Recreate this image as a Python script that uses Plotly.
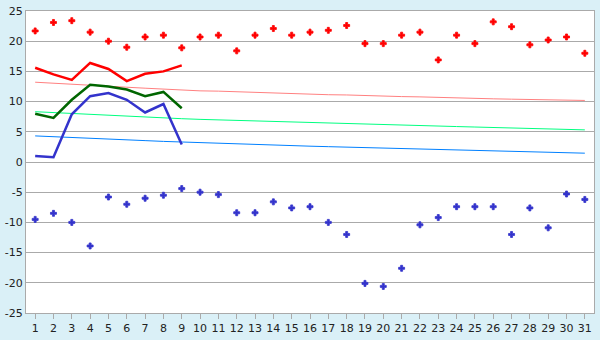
import plotly.graph_objects as go

days = list(range(1, 32))
day_labels = [str(d) for d in days]

max_temp = [21.7, 23.1, 23.4, 21.5, 20.0, 19.0, 20.7, 21.0, 18.9, 20.7, 21.0, 18.4, 21.0, 22.1, 21.0,
            21.5, 21.8, 22.6, 19.6, 19.6, 21.0, 21.5, 16.9, 21.0, 19.6, 23.2, 22.4, 19.4, 20.2, 20.7, 18.0]
min_temp = [-9.5, -8.5, -10.0, -13.9, -5.8, -7.0, -6.0, -5.5, -4.4, -5.0, -5.4, -8.4, -8.4, -6.6, -7.6,
            -7.4, -10.0, -12.0, -20.1, -20.6, -17.6, -10.4, -9.2, -7.4, -7.4, -7.4, -12.0, -7.6, -10.9, -5.3, -6.2]

line_days = list(range(1, 10))
high_line = [15.6, 14.5, 13.6, 16.4, 15.4, 13.4, 14.6, 15.0, 16.0]
mean_line = [8.0, 7.3, 10.3, 12.8, 12.5, 12.0, 10.9, 11.6, 8.9]
low_line = [1.0, 0.8, 7.9, 10.9, 11.4, 10.3, 8.2, 9.6, 2.9]

norm_high = [13.21, 13.02, 12.86, 12.70, 12.54, 12.38, 12.22, 12.06, 11.94, 11.78, 11.73, 11.62, 11.51,
             11.46, 11.35, 11.25, 11.14, 11.10, 10.98, 10.94, 10.83, 10.78, 10.67, 10.62, 10.51, 10.46,
             10.40, 10.35, 10.30, 10.24, 10.19]
norm_mean = [8.33, 8.17, 8.02, 7.86, 7.70, 7.54, 7.43, 7.30, 7.17, 7.06, 6.97, 6.86, 6.75, 6.65, 6.56,
             6.46, 6.38, 6.30, 6.22, 6.16, 6.08, 6.02, 5.95, 5.87, 5.79, 5.71, 5.63, 5.56, 5.48, 5.40, 5.32]
norm_low = [4.32, 4.17, 4.05, 3.92, 3.79, 3.67, 3.54, 3.41, 3.30, 3.21, 3.10, 2.98, 2.89, 2.81, 2.71,
            2.62, 2.54, 2.46, 2.37, 2.29, 2.22, 2.14, 2.06, 1.98, 1.92, 1.86, 1.78, 1.70, 1.60, 1.52, 1.46]

y_ticks = [-25, -20, -15, -10, -5, 0, 5, 10, 15, 20, 25]
y_labels = ["-25", "-20", "-15", "-10", "-5", "0", "5", "10", "15", "20", "25"]

fig = go.Figure()

fig.add_trace(go.Scatter(x=days, y=norm_high, mode="lines", line=dict(color="#FF8080", width=1)))
fig.add_trace(go.Scatter(x=days, y=norm_mean, mode="lines", line=dict(color="#00FF80", width=1)))
fig.add_trace(go.Scatter(x=days, y=norm_low, mode="lines", line=dict(color="#0080FF", width=1)))

fig.add_trace(go.Scatter(x=line_days, y=high_line, mode="lines", line=dict(color="#FF0000", width=2.5)))
fig.add_trace(go.Scatter(x=line_days, y=mean_line, mode="lines", line=dict(color="#006600", width=2.5)))
fig.add_trace(go.Scatter(x=line_days, y=low_line, mode="lines", line=dict(color="#3333CC", width=2.5)))

fig.add_trace(go.Scatter(x=days, y=max_temp, mode="markers",
                         marker=dict(symbol="cross", size=5, color="#FF0000",
                                     line=dict(width=0.8, color="#FF0000"))))
fig.add_trace(go.Scatter(x=days, y=min_temp, mode="markers",
                         marker=dict(symbol="cross", size=5, color="#3333CC",
                                     line=dict(width=0.8, color="#3333CC"))))

fig.update_layout(
    width=600, height=340,
    margin=dict(l=26, r=5, t=5, b=20),
    paper_bgcolor="#DAF0F7",
    plot_bgcolor="#FFFFFF",
    showlegend=False,
    font=dict(family="DejaVu Sans", size=11, color="#222222"),
    xaxis=dict(
        range=[0.5, 31.5], tickmode="array", tickvals=days, ticktext=day_labels,
        showgrid=False, zeroline=False, ticks="outside", ticklen=5, tickcolor="#AAAAAA",
        showline=True, linecolor="#AAAAAA", linewidth=1, mirror=True,
        tickfont=dict(size=11), ticklabelstandoff=0,
    ),
    yaxis=dict(
        range=[-25, 25], tickmode="array", tickvals=y_ticks, ticktext=y_labels,
        showgrid=True, gridcolor="#AAAAAA", gridwidth=1, zeroline=False,
        showline=True, linecolor="#AAAAAA", linewidth=1, mirror=True,
        ticks="", tickfont=dict(size=11), ticklabeloverflow="allow",
    ),
)

fig.write_html("out.html")
